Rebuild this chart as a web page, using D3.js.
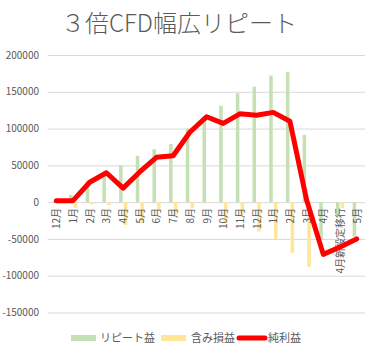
<!DOCTYPE html>
<html><head><meta charset="utf-8">
<script src="https://cdn.jsdelivr.net/npm/d3@7"></script>
<style>
body{margin:0;background:#fff;}
svg{display:block;font-family:"Noto Sans CJK JP","Noto Sans",sans-serif;}
</style></head>
<body><svg id="c" width="373" height="355"></svg>
<script>
const categories = ["12月","1月","2月","3月","4月","5月","6月","7月","8月","9月","10月","11月","12月","1月","2月","3月","4月","4月新設定移行","5月"];
const repeatProfit = [1000, 10000, 29000, 37000, 50000, 63000, 72000, 79000, 100000, 112000, 131000, 148000, 157000, 172000, 177000, 91500, -50000, -20000, -47000];
const unrealized = [0, -8000, -3000, -4000, -31000, -28000, -11000, -17000, -8000, -1000, -28000, -17000, -40000, -50000, -69000, -88000, 0, -8000, 0];
const netProfit = [2000, 2000, 27000, 40000, 19000, 41000, 61000, 63000, 95000, 116000, 107000, 120000, 118000, 122000, 110000, 3000, -71000, -61000, -50000];
const yTicks = [-150000, -100000, -50000, 0, 50000, 100000, 150000, 200000];
const seriesNames = ["リピート益", "含み損益", "純利益"];
const title = "３倍CFD幅広リピート";

const svg = d3.select("#c");
const idx = categories.map((d,i)=>i);
const x = d3.scaleBand().domain(idx).range([48, 365]);
const y = d3.scaleLinear().domain([-150000, 200000]).range([312.5, 55]);
const cx = i => x(i) + x.bandwidth()/2;

svg.append("text").attr("x", 179).attr("y", 32).attr("text-anchor","middle")
  .attr("font-size", 24).attr("font-weight", 300).attr("fill", "#595959").text(title);

// gridlines + y labels
const yAxis = d3.axisLeft(y).tickValues(yTicks).tickSize(-(365-48)).tickFormat(d=>String(d));
const ga = svg.append("g").attr("transform","translate(48,0)").call(yAxis);
ga.select(".domain").remove();
ga.selectAll(".tick line").attr("stroke","#d9d9d9").attr("stroke-width",1);
ga.selectAll(".tick text").attr("x",-9).attr("fill","#595959").attr("font-size",10)
  .attr("font-family","'Noto Sans CJK JP',sans-serif");

// bars
svg.append("g").selectAll("rect").data(repeatProfit).join("rect")
  .attr("x",(d,i)=>cx(i)-4).attr("width",3.5)
  .attr("y",d=>y(Math.max(0,d))).attr("height",d=>Math.abs(y(d)-y(0)))
  .attr("fill","#c5e0b4");
svg.append("g").selectAll("rect").data(unrealized).join("rect")
  .attr("x",(d,i)=>cx(i)+0.7).attr("width",3.5)
  .attr("y",d=>y(Math.max(0,d))).attr("height",d=>Math.abs(y(d)-y(0)))
  .attr("fill","#ffe699");

// x labels
svg.append("g").selectAll("text").data(categories).join("text")
  .attr("transform",(d,i)=>`translate(${cx(i)+0.5},208) rotate(-90)`)
  .attr("text-anchor","end").attr("dy","0.35em")
  .attr("font-size",10).attr("fill","#595959").text(d=>d);

// line
const line = d3.line().x((d,i)=>cx(i)).y(d=>y(d));
svg.append("path").datum(netProfit).attr("d",line).attr("fill","none")
  .attr("stroke","#ff0000").attr("stroke-width",5).attr("stroke-linejoin","round").attr("stroke-linecap","round");

// legend
const lg = svg.append("g").attr("font-size",11).attr("fill","#595959");
lg.append("rect").attr("x",71).attr("y",335).attr("width",25).attr("height",6).attr("fill","#c5e0b4");
lg.append("text").attr("x",100).attr("y",338).attr("dy","0.35em").attr("fill","#595959").text(seriesNames[0]);
lg.append("rect").attr("x",161).attr("y",335).attr("width",25).attr("height",6).attr("fill","#ffe699");
lg.append("text").attr("x",191).attr("y",338).attr("dy","0.35em").attr("fill","#595959").text(seriesNames[1]);
lg.append("line").attr("x1",239).attr("x2",265).attr("y1",338).attr("y2",338)
  .attr("stroke","#ff0000").attr("stroke-width",5).attr("stroke-linecap","round");
lg.append("text").attr("x",268).attr("y",338).attr("dy","0.35em").attr("fill","#595959").text(seriesNames[2]);
</script></body></html>
